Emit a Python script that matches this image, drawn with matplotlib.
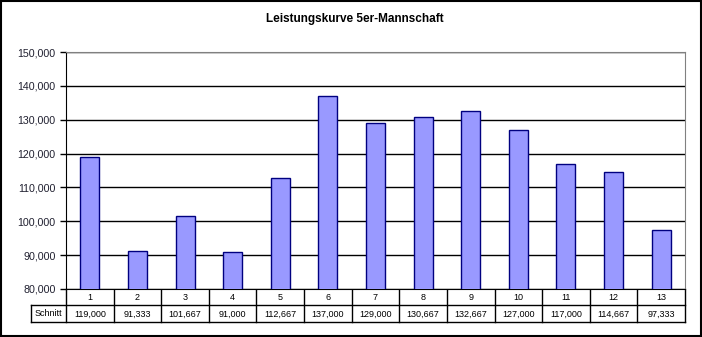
import matplotlib
matplotlib.use("Agg")
import matplotlib.pyplot as plt
from matplotlib.patches import Rectangle
from matplotlib.ticker import FuncFormatter

plt.rcParams['font.family'] = ['Liberation Sans', 'DejaVu Sans']

title = "Leistungskurve 5er-Mannschaft"
categories = ["1", "2", "3", "4", "5", "6", "7", "8", "9", "10", "11", "12", "13"]
series_name = "Schnitt"
values = [119000, 91333, 101667, 91000, 112667, 137000, 129000, 130667,
          132667, 127000, 117000, 114667, 97333]
yticks = [80000, 90000, 100000, 110000, 120000, 130000, 140000, 150000]

W, H = 702, 337
fig = plt.figure(figsize=(W / 100, H / 100), dpi=100)

# background/frame axes in pixel coordinates
bg = fig.add_axes([0, 0, 1, 1])
bg.set_xlim(0, W)
bg.set_ylim(H, 0)
bg.axis('off')
bg.add_patch(Rectangle((0.5, 0.5), W - 1.5, H - 1.5, fill=False, ec='black', lw=1.5))

L, R, T, B = 66, 685, 52, 289
ax = fig.add_axes([L / W, (H - B) / H, (R - L) / W, (B - T) / H])
n = len(categories)
xs = list(range(n))
ax.bar(xs, values, width=0.4, color='#9999FF', edgecolor='#000080', linewidth=1.0, zorder=3)
ax.set_xlim(-0.5, n - 0.5)
ax.set_ylim(yticks[0], yticks[-1])
ax.set_yticks(yticks)
ax.yaxis.set_major_formatter(FuncFormatter(lambda v, p: f"{int(v):,}"))
ax.tick_params(axis='y', labelsize=7.7, length=4, direction='out', colors='black',
               labelcolor='#202030', width=1)
ax.set_xticks([])
ax.grid(axis='y', color='black', linewidth=1, zorder=1)
for s in ['top', 'right']:
    ax.spines[s].set_color('#808080')
ax.spines['left'].set_color('black')
ax.spines['bottom'].set_color('black')

bg.text(355, 19, title, ha='center', va='center', fontsize=8.5, fontweight='bold')

# data table below the chart, in pixel coordinates
row1_top, row1_bot, row2_bot = 289, 305, 322
label_left = 31
colw = (R - L) / n
lc = 'black'
bg.plot([label_left, R], [row1_bot, row1_bot], color=lc, lw=1)
bg.plot([label_left, R], [row2_bot, row2_bot], color=lc, lw=1)
bg.plot([label_left, label_left], [row1_bot, row2_bot], color=lc, lw=1)
for i in range(n + 1):
    x = L + i * colw
    bg.plot([x, x], [row1_top, row2_bot], color=lc, lw=1)
for i, (c, v) in enumerate(zip(categories, values)):
    cx = L + (i + 0.5) * colw
    bg.text(cx, (row1_top + row1_bot) / 2 + 0.5, c, ha='center', va='center', fontsize=6.5)
    bg.text(cx, (row1_bot + row2_bot) / 2 + 0.5, f"{v:,}", ha='center', va='center', fontsize=6.5)
bg.text((label_left + L) / 2, (row1_bot + row2_bot) / 2 + 0.5, series_name,
        ha='center', va='center', fontsize=6.5)

fig.savefig("out.png", dpi=100)
